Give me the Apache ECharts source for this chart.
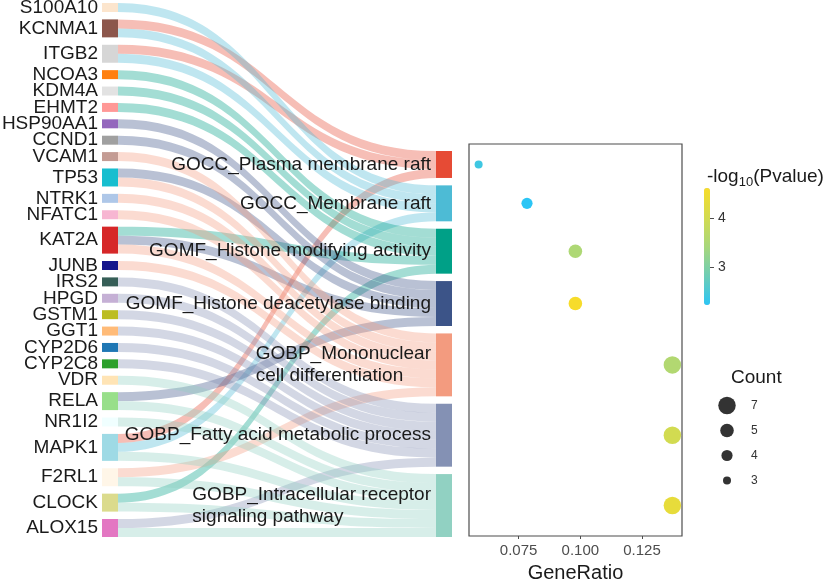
<!DOCTYPE html>
<html>
<head>
<meta charset="utf-8">
<script src="https://cdn.jsdelivr.net/npm/echarts@6/dist/echarts.min.js"></script>
<style>html,body{margin:0;padding:0;background:#fff}#c{width:830px;height:582px}</style>
</head>
<body>
<div id="c"></div>
<script>
// ---------------- data ----------------
const genes = ['S100A10','KCNMA1','ITGB2','NCOA3','KDM4A','EHMT2','HSP90AA1','CCND1','VCAM1','TP53',
  'NTRK1','NFATC1','KAT2A','JUNB','IRS2','HPGD','GSTM1','GGT1','CYP2D6','CYP2C8','VDR','RELA','NR1I2',
  'MAPK1','F2RL1','CLOCK','ALOX15'];
const geneColors = ['#FCE5CD','#8C564B','#D6D6D6','#FF7F0E','#E2E2E2','#FF9896','#9467BD','#A0A0A0','#C49C94','#17BECF',
  '#AEC7E8','#F7B6D2','#D62728','#15168C','#365E57','#C5B0D5','#BCBD22','#FFBB78','#1F77B4','#2CA02C','#FFE4B5','#98DF8A','#F0FFFF',
  '#9EDAE5','#FFF6E8','#DBDB8D','#E377C2'];
const terms = ['GOCC_Plasma membrane raft','GOCC_Membrane raft','GOMF_Histone modifying activity',
  'GOMF_Histone deacetylase binding','GOBP_Mononuclear\ncell differentiation','GOBP_Fatty acid metabolic process',
  'GOBP_Intracellular receptor\nsignaling pathway'];
const termColors = ['#E64B35','#4DBBD5','#00A087','#3C5488','#F39B7F','#8491B4','#91D1C2'];
const termGenes = [
  ['KCNMA1','ITGB2','MAPK1'],
  ['S100A10','KCNMA1','ITGB2','MAPK1'],
  ['NCOA3','KDM4A','EHMT2','KAT2A','CLOCK'],
  ['HSP90AA1','CCND1','TP53','KAT2A','RELA'],
  ['VCAM1','TP53','NTRK1','NFATC1','KAT2A','JUNB','F2RL1'],
  ['IRS2','HPGD','GSTM1','GGT1','CYP2D6','CYP2C8','ALOX15'],
  ['VDR','RELA','NR1I2','MAPK1','F2RL1','CLOCK','ALOX15']
];
const counts = [3,4,5,5,7,7,7];
const geneRatio = [0.0588,0.0784,0.0980,0.0980,0.1373,0.1373,0.1373];
const negLog10P = [2.40,2.22,3.50,4.61,3.55,4.00,4.35];
const ratioTicks = [0.075,0.100,0.125];
const pTicks = [3,4];
const countLegend = [7,5,4,3];

// ---------------- layout / style ----------------
const FONT = "'Liberation Sans', Arial, Helvetica, sans-serif";
const SK = {left:102, top:3, width:350, height:534, nodeWidth:16, gap:7.4};
const GRID = {left:469, top:144, width:213, height:392};
const totalLinks = counts.reduce((a,b)=>a+b,0);
const ky = (SK.height - (genes.length-1)*SK.gap) / totalLinks;
const rightH = totalLinks*ky + (terms.length-1)*SK.gap;
// invisible spacer so the term column sits at the bottom, like the reference
const spacerValue = (SK.height - terms.length*SK.gap) / ky - totalLinks;
const rightTop = SK.top + SK.height - rightH;
const gapUnits = SK.gap / ky;
let cum = 0;
const termCenters = counts.map((c,i)=>{ const v = cum + c/2 + i*gapUnits; cum += c; return v; });
const yMin = -(rightTop - GRID.top)/ky;
const yMax = (GRID.top + GRID.height - rightTop)/ky;
const pMin = Math.min(...negLog10P), pMax = Math.max(...negLog10P);
const sizeOf = c => Math.sqrt(64 + 60.5*(c-3));

const nodes = genes.map((g,i)=>({name:g, itemStyle:{color:geneColors[i]}, label:{distance:4}}));
nodes.push({name:'__spacer__', value:spacerValue, depth:1, itemStyle:{color:'rgba(0,0,0,0)'}, label:{show:false}});
terms.forEach((t,i)=>nodes.push({name:t, itemStyle:{color:termColors[i]}, label:{distance:5}}));
const links = [];
termGenes.forEach((gs,i)=>gs.forEach(g=>links.push({source:g, target:terms[i], value:1})));

const chart = echarts.init(document.getElementById('c'));
chart.setOption({
  animation:false,
  backgroundColor:'#fff',
  title:[
    {text:'{a|-log}{s|10}{a|(Pvalue)}', left:707, top:165, padding:0,
     textStyle:{fontWeight:'normal', rich:{a:{fontSize:19, fontWeight:'normal', fontFamily:FONT, color:'#1a1a1a', lineHeight:24},
                      s:{fontSize:13, fontWeight:'normal', fontFamily:FONT, color:'#1a1a1a', lineHeight:13, verticalAlign:'bottom'}}}},
    {text:'Count', left:731, top:368, padding:0,
     textStyle:{fontSize:19, fontWeight:'normal', fontFamily:FONT, color:'#1a1a1a'}}
  ],
  grid:[
    Object.assign({show:true, borderColor:'#4d4d4d', borderWidth:1.2, outerBoundsMode:'none'}, GRID),
    {left:704, top:188, width:6, height:117, outerBoundsMode:'none'},
    {left:717, top:393, width:20, height:100, outerBoundsMode:'none'}
  ],
  xAxis:[
    {type:'value', gridIndex:0, position:'bottom', min:0.0549, max:0.1412, splitLine:{show:false},
     axisLine:{show:false, onZero:false},
     axisTick:{show:true, length:3, customValues:ratioTicks, lineStyle:{color:'#4d4d4d'}},
     axisLabel:{customValues:ratioTicks, formatter:v=>v.toFixed(3), fontSize:15, color:'#4d4d4d', margin:7, fontFamily:FONT},
     name:'GeneRatio', nameLocation:'middle', nameGap:27,
     nameTextStyle:{fontSize:20, color:'#1a1a1a', fontFamily:FONT}},
    {type:'value', gridIndex:1, show:false, min:0, max:1},
    {type:'value', gridIndex:2, show:false, min:-1, max:1}
  ],
  yAxis:[
    {type:'value', gridIndex:0, inverse:true, min:yMin, max:yMax, show:false},
    {type:'value', gridIndex:1, min:pMin, max:pMax, position:'right', splitLine:{show:false},
     axisLine:{show:false, onZero:false},
     axisTick:{show:true, length:4, customValues:pTicks, lineStyle:{color:'#4d4d4d'}},
     axisLabel:{customValues:pTicks, fontSize:14, color:'#333', margin:8, fontFamily:FONT}},
    {type:'category', gridIndex:2, data:countLegend.map(String), inverse:true, position:'right',
     axisLine:{show:false}, axisTick:{show:false}, splitLine:{show:false},
     axisLabel:{fontSize:12, color:'#333', margin:14, fontFamily:FONT}}
  ],
  visualMap:[{
    type:'continuous', seriesIndex:1, dimension:2, min:pMin, max:pMax,
    left:704, top:188, itemWidth:6, itemHeight:117, padding:0, calculable:false, hoverLink:false,
    inRange:{color:['#2BC5F5','#6ECDB5','#A8D77B','#D3DB50','#F7DC2A']}
  }],
  series:[
    {
      type:'sankey', left:SK.left, top:SK.top, width:SK.width, height:SK.height,
      nodeWidth:SK.nodeWidth, nodeGap:SK.gap, layoutIterations:0, draggable:false,
      emphasis:{disabled:true},
      itemStyle:{borderWidth:0},
      lineStyle:{color:'target', opacity:0.36, curveness:0.5},
      label:{position:'left', fontSize:19, color:'#1a1a1a', fontFamily:FONT,
        formatter:p=> p.name.indexOf('\n')>=0 ? p.name.split('\n').map(s=>'{l|'+s+'}').join('\n') : p.name,
        rich:{l:{align:'left', fontSize:19, lineHeight:22, color:'#1a1a1a', fontFamily:FONT}}},
      data:nodes, links:links
    },
    {
      type:'scatter', xAxisIndex:0, yAxisIndex:0,
      data:terms.map((t,i)=>[geneRatio[i], termCenters[i], negLog10P[i], counts[i]]),
      symbolSize:v=>sizeOf(v[3]), itemStyle:{opacity:1}
    },
    {
      type:'scatter', xAxisIndex:2, yAxisIndex:2,
      data:countLegend.map(c=>[0, String(c), c]),
      symbolSize:v=>sizeOf(v[2]), itemStyle:{color:'#000'}
    }
  ]
});
</script>
</body>
</html>
